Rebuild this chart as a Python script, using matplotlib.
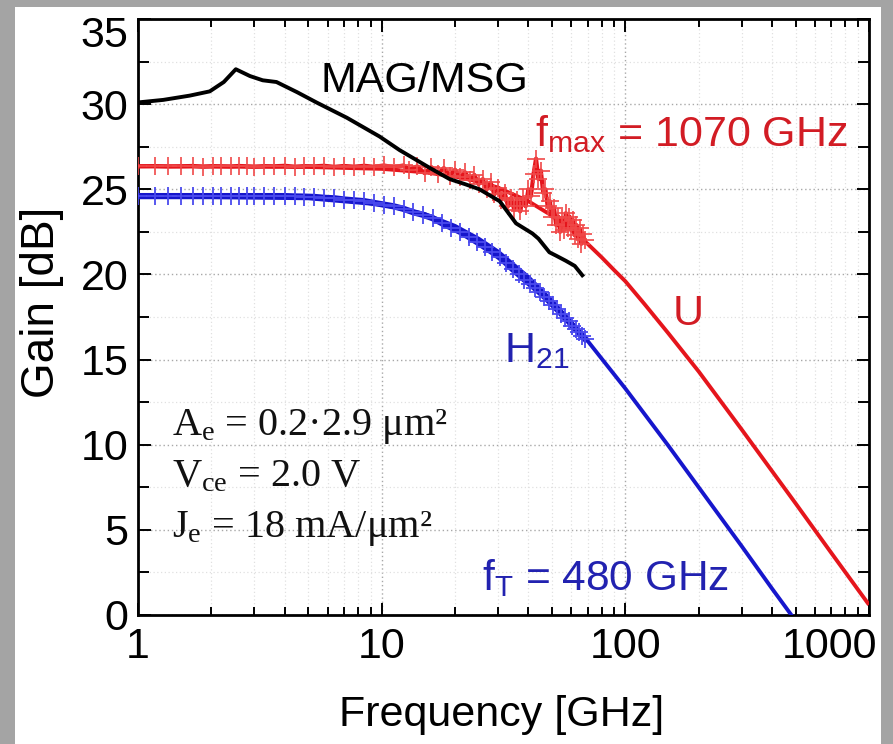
import matplotlib
matplotlib.use('Agg')
import matplotlib.pyplot as plt
from matplotlib.patches import Rectangle
from matplotlib.transforms import ScaledTranslation
from matplotlib.ticker import FixedLocator, NullFormatter, LogLocator, MultipleLocator

# ---------------- data ----------------
mag_f = [1.0, 1.27, 1.63, 1.97, 2.25, 2.52, 2.88, 3.25, 3.7, 4.5, 5.4, 7.2, 9.8,
         11.85, 13.4, 16, 19, 22, 25.2, 30.5, 35.6, 41.6, 44, 48.8, 52, 57, 62, 66.6]
mag_g = [30.1, 30.25, 30.5, 30.75, 31.3, 32.05, 31.65, 31.4, 31.3, 30.7, 30.1, 29.2, 28.1,
         27.3, 26.85, 26.2, 25.6, 25.3, 25.0, 24.3, 23.0, 22.4, 22.1, 21.3, 21.1, 20.8, 20.5, 19.95]

u_meas_f = [1.0, 1.17, 1.33, 1.5, 1.68, 1.85, 2.03, 2.2, 2.4, 2.6, 2.8, 3.0, 3.3, 3.6, 4.0,
            4.4, 4.8, 5.3, 5.8, 6.4, 7.0, 7.7, 8.5, 9.3, 10.2, 11.2, 12.3, 13.0,
            14, 15, 16, 17, 18, 19, 20, 21, 22, 23, 24, 25, 26, 27, 28, 29, 30, 31, 32, 33,
            34, 35, 36, 37, 38, 39, 40, 41, 42, 43, 44, 45, 46, 47, 48, 49, 50, 51, 52, 53,
            54, 55, 56, 57, 58, 59, 60, 61, 62, 63, 64, 65, 66, 67, 68]
u_meas_g = [26.35, 26.36, 26.34, 26.35, 26.37, 26.33, 26.36, 26.35, 26.34, 26.37, 26.35, 26.33,
            26.36, 26.35, 26.38, 26.33, 26.36, 26.35, 26.38, 26.32, 26.37, 26.33, 26.38, 26.32,
            26.4, 26.3, 26.4, 26.15,
            26.35, 25.95, 26.3, 25.9, 26.25, 25.8, 26.15, 25.7, 26.0, 25.55, 25.85, 25.3, 25.6,
            25.0, 25.4, 24.7, 25.1, 24.4, 24.8, 24.0, 24.5, 23.8, 24.4, 23.7, 24.5, 24.0, 25.0,
            24.6, 25.9, 26.8, 25.6, 26.1, 24.8, 25.0, 24.0, 24.3, 23.4, 23.9, 22.9, 23.4, 22.5,
            23.3, 22.6, 23.6, 22.7, 23.4, 22.6, 23.2, 22.3, 22.9, 22.1, 22.7, 21.8, 22.4, 22.0]

h21_meas_f = [1.0, 1.17, 1.33, 1.5, 1.68, 1.85, 2.03, 2.2, 2.4, 2.6, 2.8, 3.0, 3.3, 3.6, 4.0,
              4.4, 4.8, 5.3, 5.8, 6.4, 7.0, 7.7, 8.5, 9.3, 10.2, 11.2, 12.3, 13.5, 14.8, 16.2,
              17.7, 19.3, 21.0, 22.8, 24.6, 26.5, 28.5, 30.5, 32.5, 34.5, 36.5, 38.5, 40.5,
              42.5, 44.5, 46.5, 48.5, 50.5, 52.5, 54.5, 56.5, 58.5, 60.5, 62.5, 64.5, 66.5, 68.5]
h21_meas_g = [24.6, 24.6, 24.6, 24.6, 24.6, 24.6, 24.6, 24.6, 24.6, 24.6, 24.6, 24.6, 24.6,
              24.6, 24.6, 24.58, 24.57, 24.55, 24.5, 24.47, 24.4, 24.35, 24.3, 24.2, 24.1,
              24.0, 23.85, 23.65, 23.5, 23.3, 23.0, 22.75, 22.5, 22.2, 21.9, 21.6, 21.3, 21.0,
              20.65, 20.3, 20.0, 19.7, 19.45, 19.2, 18.95, 18.7, 18.45, 18.2, 17.95, 17.7,
              17.45, 17.25, 17.0, 16.8, 16.6, 16.4, 16.2]

u_model_f = [1, 5, 10, 15, 20, 25, 30, 40, 50, 60, 70, 80, 90, 100, 120, 150, 200, 300,
             500, 700, 1000]
u_model_g = [26.35, 26.31, 26.2, 26.0, 25.75, 25.45, 25.1, 24.3, 23.45, 22.6, 21.8, 21.0,
             20.25, 19.6, 18.25, 16.55, 14.3, 10.9, 6.55, 3.65, 0.6]

h21_model_f = [1, 5, 10, 15, 20, 25, 30, 40, 50, 60, 70, 80, 100, 150, 200, 300, 400, 480, 520]
h21_model_g = [24.6, 24.47, 24.1, 23.55, 22.85, 22.1, 21.35, 19.85, 18.45, 17.2, 16.1, 15.05,
               13.3, 9.95, 7.5, 4.05, 1.55, 0.0, -0.7]

x_ticks = [1, 10, 100, 1000]
x_tick_labels = ['1', '10', '100', '1000']
y_ticks = [0, 5, 10, 15, 20, 25, 30, 35]
y_tick_labels = ['0', '5', '10', '15', '20', '25', '30', '35']

# ---------------- figure ----------------
W, H = 893, 744
fig = plt.figure(figsize=(W / 100, H / 100), dpi=100, facecolor='#a4a4a4')
fig.patches.append(Rectangle((15 / W, 0), (881 - 15) / W, (H - 7) / H,
                             transform=fig.transFigure, facecolor='white',
                             edgecolor='none', zorder=-10))

def P(x, y):
    return x / W, 1 - y / H

ax = fig.add_axes([138 / W, (H - 615) / H, (869 - 138) / W, (615 - 19) / H])
ax.set_zorder(1)
ax.set_xscale('log')
ax.set_xlim(1, 1000)
ax.set_ylim(0, 35)

SANS = 'Liberation Sans'
SERIF = 'Liberation Serif'

RED = '#e5151c'
RED_M = '#f04848'
BLUE = '#1616cc'
BLUE_M = '#4a4aee'
RED_T = '#d21c24'
BLUE_T = '#2222b0'

# ticks and grid
ax.xaxis.set_major_locator(FixedLocator(x_ticks))
ax.xaxis.set_minor_locator(LogLocator(base=10, subs=range(2, 10)))
ax.xaxis.set_minor_formatter(NullFormatter())
ax.yaxis.set_major_locator(FixedLocator(y_ticks))
ax.yaxis.set_minor_locator(MultipleLocator(2.5))
ax.set_xticklabels(x_tick_labels)
ax.set_yticklabels(y_tick_labels)
ax.grid(which='major', linestyle=(0, (1, 2)), color='#a8a8a8', linewidth=1.0)
ax.grid(which='minor', linestyle=(0, (1, 2)), color='#e0e0e0', linewidth=0.9)
ax.set_axisbelow(True)

for s in ax.spines.values():
    s.set_linewidth(2.0)
ax.tick_params(which='both', direction='in', top=True, right=True, width=1.4)
ax.tick_params(which='major', length=9)
ax.tick_params(which='minor', length=6)
ax.tick_params(axis='y', which='minor', length=8)
ax.tick_params(axis='x', which='major', pad=9)
ax.tick_params(axis='y', which='major', pad=7)
for lab in ax.get_xticklabels() + ax.get_yticklabels():
    lab.set_fontfamily(SANS)
    lab.set_fontsize(31)

# keep the end labels inside the frame like the reference
last_x = ax.get_xticklabels()[-1]
last_x.set_horizontalalignment('right')
last_x.set_transform(last_x.get_transform() + ScaledTranslation(6 / 72, 0, fig.dpi_scale_trans))
top_y = ax.get_yticklabels()[-1]
top_y.set_verticalalignment('top')
top_y.set_transform(top_y.get_transform() + ScaledTranslation(0, 2 / 72, fig.dpi_scale_trans))

# model lines
ax.plot(u_model_f, u_model_g, color=RED, lw=2.8, zorder=3, solid_capstyle='butt')
ax.plot(h21_model_f, h21_model_g, color=BLUE, lw=2.8, zorder=3, solid_capstyle='butt')

# measured
ax.plot(u_meas_f, u_meas_g, color=RED, lw=3.0, zorder=4)
ax.plot(u_meas_f, u_meas_g, linestyle='none', marker='+', ms=13, mew=1.2,
        color=RED_M, zorder=4)
ax.plot(h21_meas_f, h21_meas_g, color=BLUE, lw=4.5, zorder=4)
ax.plot(h21_meas_f, h21_meas_g, linestyle='none', marker='+', ms=13, mew=1.3,
        color=BLUE_M, zorder=4)

# MAG/MSG
ax.plot(mag_f, mag_g, color='black', lw=2.8, zorder=5)

# annotations
fig.text(*P(320, 92), 'MAG/MSG', family=SANS, fontsize=31, color='black', va='baseline')
fig.text(*P(535, 146), r'$\mathregular{f_{max}}$ = 1070 GHz', family=SANS, fontsize=31,
         color=RED_T, va='baseline')
fig.text(*P(673, 325), 'U', family=SANS, fontsize=31, color=RED_T, va='baseline')
fig.text(*P(504, 362), r'$\mathregular{H_{21}}$', family=SANS, fontsize=31, color=BLUE_T,
         va='baseline')
fig.text(*P(482, 590), r'$\mathregular{f_T}$ = 480 GHz', family=SANS, fontsize=30.5,
         color=BLUE_T, va='baseline')

fig.text(*P(172, 435), r'$\mathregular{A_e}$ = 0.2·2.9 μm²', family=SERIF, fontsize=29,
         color='#111111', va='baseline')
fig.text(*P(172, 486), r'$\mathregular{V_{ce}}$ = 2.0 V', family=SERIF, fontsize=29,
         color='#111111', va='baseline')
fig.text(*P(172, 537), r'$\mathregular{J_e}$ = 18 mA/μm²', family=SERIF, fontsize=29,
         color='#111111', va='baseline')

# axis labels
fig.text(*P(502, 726), 'Frequency [GHz]', family=SANS, fontsize=31, ha='center',
         va='baseline')
fig.text(*P(42, 302), 'Gain [dB]', family=SANS, fontsize=33, ha='center', va='center',
         rotation=90)

fig.savefig('out.png', dpi=100, facecolor=fig.get_facecolor())
